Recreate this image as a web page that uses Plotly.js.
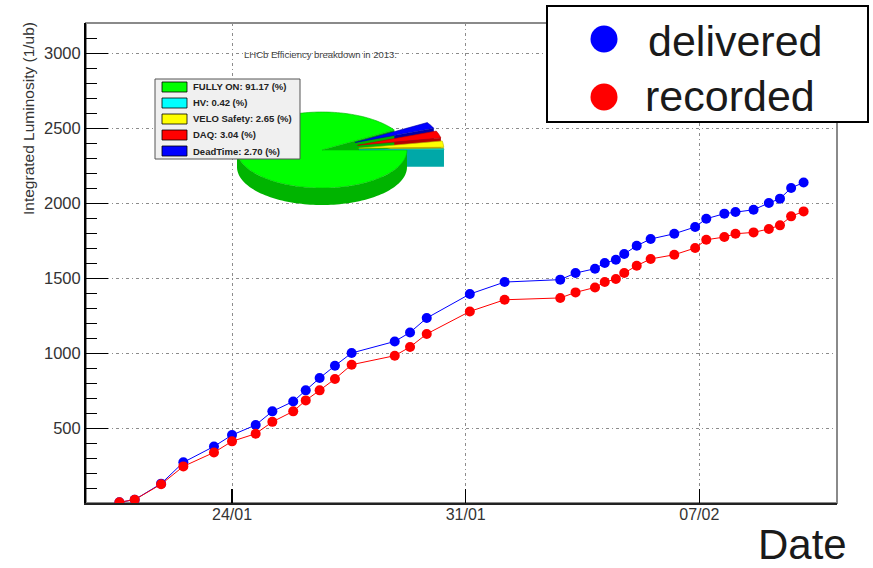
<!DOCTYPE html>
<html><head><meta charset="utf-8">
<script src="https://cdn.plot.ly/plotly-3.0.1.min.js"></script>
<style>html,body{margin:0;padding:0;background:#fff;}#chart{width:873px;height:568px;}</style>
</head><body><div id="chart"></div>
<script>
// ---------------- data ----------------
const dates = ['2013-01-20 15:00','2013-01-21 02:00','2013-01-21 21:00','2013-01-22 13:00','2013-01-23 11:00','2013-01-24 00:00',
  '2013-01-24 17:00','2013-01-25 05:00','2013-01-25 20:00','2013-01-26 05:00','2013-01-26 15:00','2013-01-27 02:00',
  '2013-01-27 14:00','2013-01-28 21:00','2013-01-29 08:00','2013-01-29 20:00','2013-01-31 03:00','2013-02-01 04:00',
  '2013-02-02 20:00','2013-02-03 07:00','2013-02-03 21:00','2013-02-04 04:00','2013-02-04 12:00','2013-02-04 18:00',
  '2013-02-05 03:00','2013-02-05 13:00','2013-02-06 06:00','2013-02-06 21:00','2013-02-07 05:00','2013-02-07 18:00',
  '2013-02-08 02:00','2013-02-08 15:00','2013-02-09 02:00','2013-02-09 10:00','2013-02-09 18:00','2013-02-10 03:00'];
const delivered = [5,22,129,271,377,453,520,611,677,751,833,915,1000,1077,1137,1233,1393,1473,1489,1533,1562,1600,1622,1660,
  1715,1760,1795,1840,1895,1929,1940,1955,2000,2029,2100,2137];
const recorded = [5,22,125,244,337,411,462,541,611,684,751,827,922,982,1040,1127,1277,1355,1367,1404,1437,1473,1493,1533,
  1582,1627,1655,1700,1755,1773,1795,1804,1827,1851,1911,1944];
const seriesNames = ['delivered','recorded'];
const tickDates = ['2013-01-24','2013-01-31','2013-02-07'];
const tickLabels = ['24/01','31/01','07/02'];
const yTickVals = [500,1000,1500,2000,2500,3000];
const pieTitle = 'LHCb Efficiency breakdown in 2013:';
const pieLabels = ['FULLY ON','HV','VELO Safety','DAQ','DeadTime'];
const pieValues = [91.17,0.42,2.65,3.04,2.70];

// ---------------- layout helpers ----------------
const W=873, H=568, M={l:86,r:36,t:23,b:65};
const PW=W-M.l-M.r, PH=H-M.t-M.b;
const px = x => (x-M.l)/PW;
const py = y => (H-M.b-y)/PH;
const FONT = 'Arial, "Liberation Sans", sans-serif';
const seriesColors = ['#0000ff','#ff0000'];
const topColors = ['#00ff00','#00ffff','#ffff00','#ff0000','#0000ff'];
const sideColors = ['#00b400','#00a8a8','#b4b400','#b40000','#0000a8'];
const pie = {cx:322, cy:150, rx:85, ry:38, depth:17, pull:0.435};

function pt(c,a,dy){const r=a*Math.PI/180;return [c[0]+pie.rx*Math.cos(r), c[1]-pie.ry*Math.sin(r)+(dy||0)];}
function P(p){return px(p[0]).toFixed(5)+','+py(p[1]).toFixed(5);}
function poly(points){return 'M'+points.map(P).join('L')+'Z';}
function arc(c,a1,a2,dy){const n=Math.max(2,Math.ceil(Math.abs(a2-a1)/2));const o=[];for(let i=0;i<=n;i++)o.push(pt(c,a1+(a2-a1)*i/n,dy));return o;}
function pshape(points,fill,lc,lw){return {type:'path',xref:'paper',yref:'paper',path:poly(points),fillcolor:fill,line:{color:lc||fill,width:lw||0},layer:'above'};}

const shapes=[];
const annotations=[];
// frame
shapes.push({type:'rect',xref:'paper',yref:'paper',x0:0,x1:1,y0:0,y1:1,line:{color:'#8a8a8a',width:2},layer:'below'});
// inset pad (covers grid)
shapes.push({type:'rect',xref:'paper',yref:'paper',x0:px(109),x1:px(540),y0:py(262),y1:py(37),fillcolor:'#ffffff',line:{width:0},layer:'between'});

// pie geometry from data
const total = pieValues.reduce((a,b)=>a+b,0);
const a0 = 360 - 360*pieValues[0]/total;
const slices=[]; let acc=a0;
pieValues.forEach((v,i)=>{const s=acc, e=acc+360*v/total; acc=e;
  const m=(s+e)/2*Math.PI/180;
  const pull = i===0?0:pie.pull;
  const c=[pie.cx+pull*pie.rx*Math.cos(m), pie.cy-pull*pie.ry*Math.sin(m)];
  slices.push({s,e,c,i});});
const d=pie.depth;
// cut faces of exploded slices (back to front)
for(let k=slices.length-1;k>=1;k--){const sl=slices[k];
  shapes.push(pshape([sl.c, pt(sl.c,sl.s), pt(sl.c,sl.s,d), [sl.c[0],sl.c[1]+d]], sideColors[k]));}
// main slice: cut face, side band, top
const g=slices[0];
shapes.push(pshape([g.c, pt(g.c,g.s), pt(g.c,g.s,d), [g.c[0],g.c[1]+d]], sideColors[0]));
shapes.push(pshape(arc(g.c,180,360).concat(arc(g.c,360,180,d)), sideColors[0]));
shapes.push(pshape([g.c].concat(arc(g.c,g.s,g.e)), topColors[0], sideColors[0], 0.6));
for(let k=slices.length-1;k>=1;k--){const sl=slices[k];
  shapes.push(pshape([sl.c].concat(arc(sl.c,sl.s,sl.e)), topColors[k], sideColors[k], 0.6));}

// pie legend
shapes.push({type:'rect',xref:'paper',yref:'paper',x0:px(155),x1:px(300),y0:py(159),y1:py(79),fillcolor:'#f0f0f0',line:{color:'#555',width:1},layer:'above'});
pieLabels.forEach((lab,i)=>{const yc=87+i*16;
  shapes.push({type:'rect',xref:'paper',yref:'paper',x0:px(162),x1:px(187),y0:py(yc+5),y1:py(yc-5),fillcolor:topColors[i],line:{color:'#000',width:0.8},layer:'above'});
  annotations.push({xref:'paper',yref:'paper',x:px(191),y:py(yc),xanchor:'left',yanchor:'middle',showarrow:false,
    text:'<b>'+lab+': '+pieValues[i].toFixed(2)+' (%)</b>',font:{family:FONT,size:9.5,color:'#222'}});});
annotations.push({xref:'paper',yref:'paper',x:px(320),y:py(55),xanchor:'center',yanchor:'middle',showarrow:false,
  text:pieTitle,font:{family:FONT,size:9.5,color:'#444'}});

// main legend
shapes.push({type:'rect',xref:'paper',yref:'paper',x0:px(547),x1:px(868),y0:py(122),y1:py(6),fillcolor:'#ffffff',line:{color:'#000',width:2},layer:'above'});
[[39,41,646],[97,96,643]].forEach((p,i)=>{
  shapes.push({type:'circle',xref:'paper',yref:'paper',x0:px(604-13.5),x1:px(604+13.5),y0:py(p[0]+13.5),y1:py(p[0]-13.5),fillcolor:seriesColors[i],line:{width:0},layer:'above'});
  annotations.push({xref:'paper',yref:'paper',x:px(p[2]),y:py(p[1]),xanchor:'left',yanchor:'middle',showarrow:false,
    text:seriesNames[i],font:{family:FONT,size:43,color:'#1a1a1a'}});});

// axis titles
annotations.push({xref:'paper',yref:'paper',x:px(29),y:py(119),xanchor:'center',yanchor:'middle',textangle:-90,showarrow:false,
  text:'Integrated Luminosity (1/ub)',font:{family:FONT,size:15.5,color:'#333'}});
annotations.push({xref:'paper',yref:'paper',x:px(849),y:py(544),xanchor:'right',yanchor:'middle',showarrow:false,
  text:'Date',font:{family:FONT,size:42,color:'#1a1a1a'}});

const traces = [delivered, recorded].map((ys,i)=>({
  x:dates, y:ys, type:'scatter', mode:'lines+markers', name:seriesNames[i],
  line:{color:seriesColors[i],width:1}, marker:{color:seriesColors[i],size:10}, showlegend:false, hoverinfo:'skip'}));

const layout = {
  width:W, height:H, margin:M, paper_bgcolor:'#fff', plot_bgcolor:'#fff', showlegend:false,
  font:{family:FONT,color:'#333'},
  xaxis:{type:'date', range:['2013-01-19 15:00','2013-02-11 03:00'], tickmode:'array', tickvals:tickDates, ticktext:tickLabels,
    ticks:'inside', ticklen:14, tickwidth:1.5, tickcolor:'#000', showline:true, linecolor:'#222', linewidth:1.5,
    showgrid:true, gridcolor:'#8c8c8c', griddash:'3px,3px,1px,3px', gridwidth:1, zeroline:false, ticklabelstandoff:-4,
    tickfont:{family:FONT,size:16,color:'#333'}, fixedrange:true},
  yaxis:{range:[0,3200], tickmode:'array', tickvals:yTickVals,
    ticks:'inside', ticklen:22, tickwidth:1, tickcolor:'#000', showline:true, linecolor:'#000', linewidth:2,
    minor:{tick0:0, dtick:100, ticks:'inside', ticklen:11, tickcolor:'#000', tickwidth:1, showgrid:false},
    showgrid:true, gridcolor:'#8c8c8c', griddash:'3px,3px,1px,3px', gridwidth:1, zeroline:false,
    tickfont:{family:FONT,size:16.5,color:'#333'}, fixedrange:true},
  shapes:shapes, annotations:annotations
};
Plotly.newPlot('chart', traces, layout, {staticPlot:true, displayModeBar:false});
</script></body></html>
